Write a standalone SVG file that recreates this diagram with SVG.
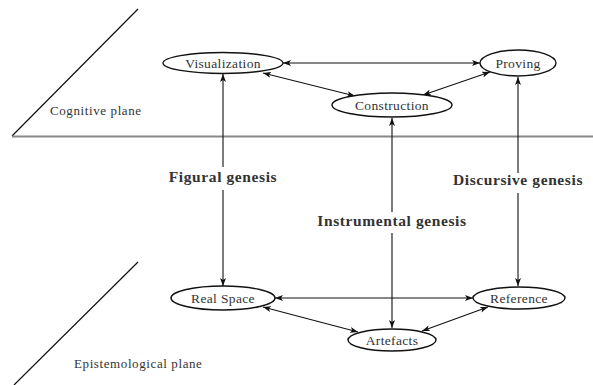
<svg xmlns="http://www.w3.org/2000/svg" width="593" height="385" viewBox="0 0 593 385">
<defs>
<marker id="ah" viewBox="0 0 8 6" refX="8" refY="3" markerWidth="8" markerHeight="6" markerUnits="userSpaceOnUse" orient="auto-start-reverse">
<path d="M0,0 L8,3 L0,6 L2,3 Z" fill="#111"/>
</marker>
<style>
.node ellipse{fill:#fff;stroke:#111;stroke-width:1.4}
.node text{font-family:"Liberation Serif","DejaVu Serif",serif;font-size:13.5px;letter-spacing:0.35px;fill:#333;text-anchor:middle}
.conn path{fill:none;stroke:#111;stroke-width:1.1;marker-start:url(#ah);marker-end:url(#ah)}
.gen{font-family:"Liberation Serif","DejaVu Serif",serif;font-size:15.5px;letter-spacing:0.6px;font-weight:bold;fill:#333;text-anchor:middle}
.plane{font-family:"Liberation Serif","DejaVu Serif",serif;font-size:13px;letter-spacing:0.6px;fill:#333}
.pl{stroke:#111;stroke-width:1.2;fill:none}
</style>
</defs>
<rect width="593" height="385" fill="#fff"/>
<g id="planes">
<line class="pl" x1="12" y1="136" x2="138" y2="9"/>
<line x1="12" y1="136.5" x2="593" y2="136.5" stroke="#888" stroke-width="1.8"/>
<line class="pl" x1="138" y1="262" x2="14" y2="385"/>
<text class="plane" x="50" y="115">Cognitive plane</text>
<text class="plane" x="74" y="368">Epistemological plane</text>
</g>
<g class="conn" id="connectors">
<path d="M283,63 L480,63"/>
<path d="M263,73 L355,96"/>
<path d="M423,95 L490,72"/>
<path d="M275,298 L473,298"/>
<path d="M263,307 L358,332"/>
<path d="M422,331 L488,307"/>
<path d="M223,74 L223,167 M223,190 L223,286"/>
<path d="M392,118 L392,212 M392,233 L392,328"/>
<path d="M518,77 L518,173 M518,193 L518,286"/>
</g>
<g id="labels">
<text class="gen" x="223" y="182">Figural genesis</text>
<text class="gen" x="392" y="226">Instrumental genesis</text>
<text class="gen" x="518" y="185">Discursive genesis</text>
</g>
<g class="node" id="visualization"><ellipse cx="223" cy="63" rx="60" ry="10.5"/><text x="223" y="67.5">Visualization</text></g>
<g class="node" id="proving"><ellipse cx="518" cy="63" rx="38" ry="13"/><text x="518" y="67.5">Proving</text></g>
<g class="node" id="construction"><ellipse cx="392" cy="105" rx="60" ry="12"/><text x="392" y="109.5">Construction</text></g>
<g class="node" id="realspace"><ellipse cx="223" cy="298" rx="52" ry="12"/><text x="223" y="302.5">Real Space</text></g>
<g class="node" id="reference"><ellipse cx="519" cy="298" rx="46" ry="11"/><text x="519" y="302.5">Reference</text></g>
<g class="node" id="artefacts"><ellipse cx="392" cy="340" rx="44" ry="11"/><text x="392" y="344.5">Artefacts</text></g>
</svg>
